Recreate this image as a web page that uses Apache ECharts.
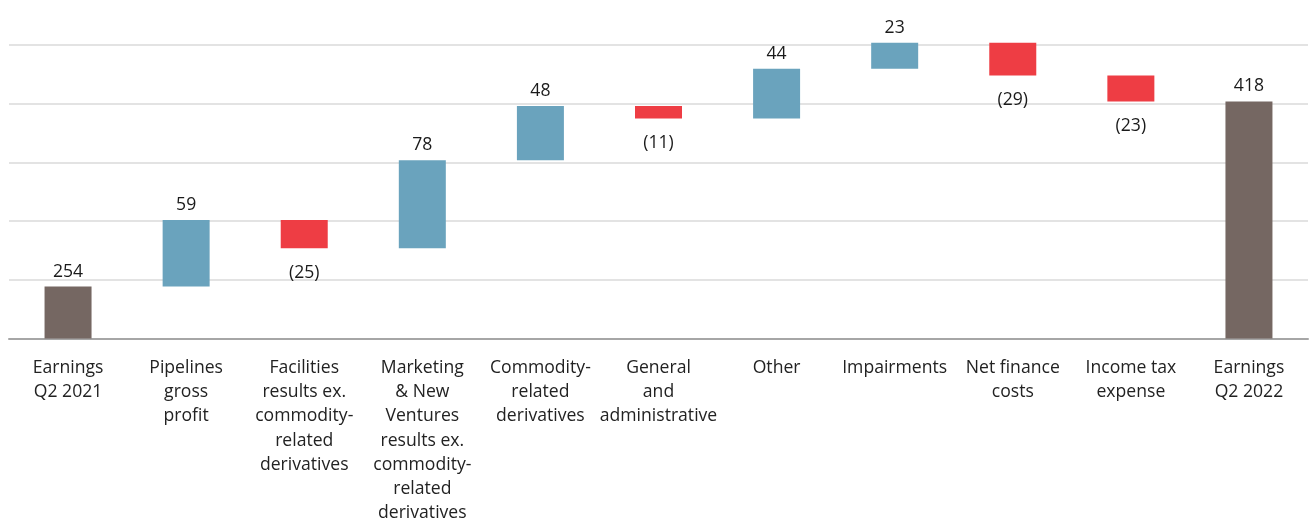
<!DOCTYPE html>
<html><head><meta charset="utf-8">
<script src="https://cdn.jsdelivr.net/npm/echarts@6/dist/echarts.min.js"></script>
<style>html,body{margin:0;padding:0;background:#fff}#c{width:1310px;height:518px}</style>
</head><body><div id="c"></div>
<script>
const categories = [
  "Earnings\nQ2 2021",
  "Pipelines\ngross\nprofit",
  "Facilities\nresults ex.\ncommodity-\nrelated\nderivatives",
  "Marketing\n& New\nVentures\nresults ex.\ncommodity-\nrelated\nderivatives",
  "Commodity-\nrelated\nderivatives",
  "General\nand\nadministrative",
  "Other",
  "Impairments",
  "Net finance\ncosts",
  "Income tax\nexpense",
  "Earnings\nQ2 2022"
];
// first and last are totals; others are changes
const changes = [254, 59, -25, 78, 48, -11, 44, 23, -29, -23, 418];
const isTotal = [true, false, false, false, false, false, false, false, false, false, true];
const Y_MIN = 208, Y_MAX = 468, Y_STEP = 52;

const COL_TOTAL = '#756762', COL_UP = '#6aa3bd', COL_DOWN = '#ee3d44';

const base = [], height = [];
let run = 0;
changes.forEach((v, i) => {
  if (isTotal[i]) { base.push(Y_MIN); height.push(v - Y_MIN); run = v; }
  else if (v >= 0) { base.push(run); height.push(v); run += v; }
  else { base.push(run + v); height.push(-v); run += v; }
});

const chart = echarts.init(document.getElementById('c'));
const FONT = 'Open Sans';
chart.setOption({
  animation: false,
  grid: { left: 9, right: 2, top: 45, bottom: 179.5, containLabel: false, outerBoundsMode: 'none' },
  xAxis: {
    type: 'category', data: categories,
    axisLine: { lineStyle: { color: '#a6a6a6', width: 2 } },
    axisTick: { show: false },
    axisLabel: { interval: 0, color: '#222222', fontFamily: FONT, fontSize: 17.6, lineHeight: 24.3, margin: 17, align: 'center' }
  },
  yAxis: {
    type: 'value', min: Y_MIN, max: Y_MAX, interval: Y_STEP,
    axisLabel: { show: false }, axisLine: { show: false }, axisTick: { show: false },
    splitLine: { lineStyle: { color: '#e3e3e3', width: 2 } }
  },
  series: [
    { type: 'bar', stack: 'w', data: base, barWidth: 47, clip: false, itemStyle: { color: 'transparent' }, silent: true },
    { type: 'bar', stack: 'w', barWidth: 47, clip: false,
      data: height.map((h, i) => {
        const v = changes[i];
        const neg = !isTotal[i] && v < 0;
        return {
          value: h,
          itemStyle: { color: isTotal[i] ? COL_TOTAL : (neg ? COL_DOWN : COL_UP) },
          label: {
            show: true,
            position: neg ? 'bottom' : 'top',
            distance: neg ? 16 : 6,
            formatter: neg ? '(' + (-v) + ')' : String(v),
            color: '#1a1a1a', fontFamily: FONT, fontSize: 17.6
          }
        };
      })
    }
  ]
});
</script></body></html>
